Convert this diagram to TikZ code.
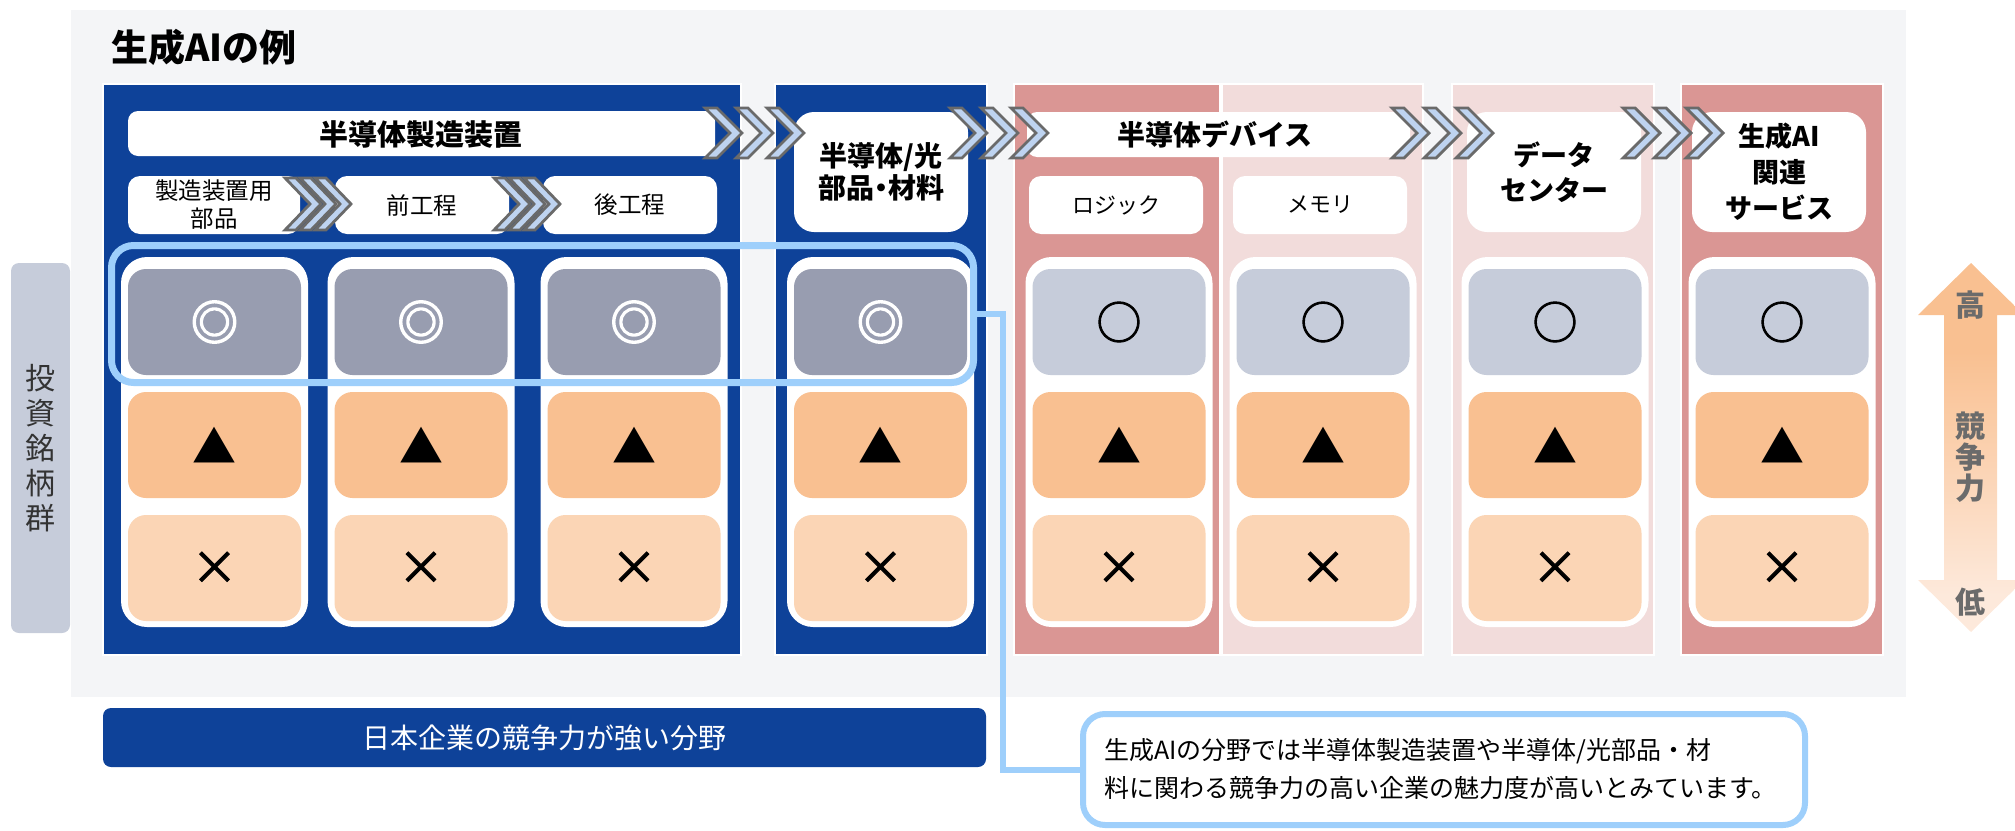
\documentclass[tikz,border=0pt]{standalone}
\usepackage{fontspec}
\setmainfont{Noto Sans CJK JP}
\newfontfamily\propfont[RawFeature=+palt]{Noto Sans CJK JP}
\newfontfamily\symheavy[FakeBold=3.5]{Noto Sans CJK JP}
\newfontfamily\symmid[FakeBold=2]{Noto Sans CJK JP}
\definecolor{bgc}{HTML}{F4F5F7}
\definecolor{navy}{HTML}{0E4299}
\definecolor{pinkd}{HTML}{DA9694}
\definecolor{pinkl}{HTML}{F2DCDB}
\definecolor{grayd}{HTML}{989DB0}
\definecolor{grayl}{HTML}{C6CCDA}
\definecolor{orng}{HTML}{F9C091}
\definecolor{orngl}{HTML}{FBD5B5}
\definecolor{hlblue}{HTML}{9ECFFB}
\definecolor{chevfill}{HTML}{BED3F0}
\definecolor{chevline}{HTML}{6A6A6A}
\definecolor{arrowtxt}{HTML}{6B6B6B}
\definecolor{arrlight}{HTML}{FDE9DB}
\pgfdeclareverticalshading{compshade}{100bp}{color(0bp)=(arrlight); color(30bp)=(arrlight); color(63bp)=(orng); color(100bp)=(orng)}
\newcommand\bigchev[1]{\filldraw[chev] (#1,108) -- ++(12,0) -- ++(25,25) -- ++(-25,25) -- ++(-12,0) -- ++(25,-25) -- cycle;}
\newcommand\smallchev[1]{\filldraw[chev] (#1,178) -- ++(11,0) -- ++(25,26) -- ++(-25,26) -- ++(-11,0) -- ++(25,-26) -- cycle;}
\newcommand\fs[2]{\fontsize{#1}{#2}\selectfont}
\tikzset{
  panel/.style={draw=white, line width=1.5pt},
  chev/.style={fill=chevfill, draw=chevline, line width=2.8pt, line join=miter},
  hdr/.style={fill=white, inner sep=0pt, outer sep=0pt, align=center},
  card/.style={fill=white, rounded corners=26pt, minimum width=187pt, minimum height=370pt, inner sep=0pt},
  cell/.style={rounded corners=18pt, minimum width=173pt, minimum height=106pt, inner sep=0pt, font=\fs{44}{44}},
  dcell/.style={cell, font=\symheavy\fs{47}{47}},
  ocell/.style={cell, font=\symmid\fs{45}{45}},
  xcell/.style={cell, font=\symmid\fs{46}{46}},
}
\begin{document}
\begin{tikzpicture}[x=1pt, y=-1pt]
\useasboundingbox (0,0) rectangle (2015,830);
% background
\fill[bgc] (71,10) rectangle (1906,697);
\node[anchor=west, inner sep=0pt, font=\fs{37}{37}\bfseries] (title) at (111,47) {生成AIの例};
% panels
\filldraw[panel, fill=navy] (103,84) rectangle (741,655);
\filldraw[panel, fill=navy] (775,84) rectangle (987,655);
\filldraw[panel, fill=pinkd] (1014,84) rectangle (1220,655);
\filldraw[panel, fill=pinkl] (1222,84) rectangle (1423,655);
\filldraw[panel, fill=pinkl] (1452,84) rectangle (1654,655);
\filldraw[panel, fill=pinkd] (1681,84) rectangle (1883,655);
% headers
\node[hdr, rounded corners=10pt, minimum width=587pt, minimum height=45pt] (h1) at (421.5,133.5) {};
\node[font=\fs{29}{29}\bfseries] (h1t) at (421,134) {半導体製造装置};
\node[hdr, rounded corners=10pt, minimum width=383pt, minimum height=45pt] (h2) at (1218.5,134.5) {};
\node[font=\fs{28}{28}\bfseries] (h2t) at (1215,135) {半導体デバイス};
\node[hdr, rounded corners=20pt, minimum width=174pt, minimum height=120pt, font=\fs{28}{32}\bfseries] (s4) at (881,172) {\raisebox{-4pt}{\parbox{170pt}{\centering\propfont 半導体/光\\部品・材料}}};
\node[hdr, rounded corners=20pt, minimum width=174pt, minimum height=120pt, font=\fs{27}{35}\bfseries] (s7) at (1554,172) {\raisebox{-4pt}{\parbox{170pt}{\centering データ\\センター}}};
\node[hdr, rounded corners=20pt, minimum width=174pt, minimum height=120pt, font=\fs{27}{36}\bfseries] (s8) at (1779,172) {\raisebox{-3pt}{\parbox{170pt}{\centering 生成AI\\関連\\サービス}}};
\node[hdr, rounded corners=12pt, minimum width=172pt, minimum height=58pt, font=\fs{23.5}{28}] (s1) at (214,205) {製造装置用\\部品};
\node[hdr, rounded corners=12pt, minimum width=174pt, minimum height=58pt, font=\fs{23.5}{28}] (s2) at (422,205) {前工程};
\node[hdr, rounded corners=12pt, minimum width=174pt, minimum height=58pt, font=\fs{23.5}{28}] (s3) at (630,205) {後工程};
\node[hdr, rounded corners=12pt, minimum width=174pt, minimum height=58pt, font=\fs{22}{28}] (s5) at (1116,205) {ロジック};
\node[hdr, rounded corners=12pt, minimum width=174pt, minimum height=58pt, font=\fs{22}{28}] (s6) at (1320,205) {メモリ};
% chevrons
\foreach \a in {705,736,767} {\bigchev{\a}}
\foreach \a in {950,981,1011} {\bigchev{\a}}
\foreach \a in {1392,1424,1456} {\bigchev{\a}}
\foreach \a in {1623,1654,1686} {\bigchev{\a}}
\foreach \a in {285,300,315} {\smallchev{\a}}
\foreach \a in {494,509,524} {\smallchev{\a}}
% columns
\foreach \cx/\n in {214.5/1,421/2,634/3,880.5/4}{
  \node[card] (card\n) at (\cx,442) {};
  \node[dcell, fill=grayd, text=white] (top\n) at (\cx,322) {◎};
  \node[cell, fill=orng] (mid\n) at (\cx,445) {▲};
  \node[xcell, fill=orngl] (bot\n) at (\cx,568) {×};
}
\foreach \cx/\n in {1119/5,1323/6,1555/7,1782/8}{
  \node[card] (card\n) at (\cx,442) {};
  \node[ocell, fill=grayl] (top\n) at (\cx,322) {○};
  \node[cell, fill=orng] (mid\n) at (\cx,445) {▲};
  \node[xcell, fill=orngl] (bot\n) at (\cx,568) {×};
}
% highlight
\node[draw=hlblue, line width=7pt, rounded corners=22pt, minimum width=862pt, minimum height=137pt, inner sep=0pt] (hl) at (542.5,314) {};
% callout
\node[draw=hlblue, fill=white, line width=6pt, rounded corners=22pt, minimum width=722pt, minimum height=111pt, inner sep=0pt, font=\fs{25}{38}] (call) at (1444,769.5) {\parbox{680pt}{\raggedright 生成AIの分野では半導体製造装置や半導体/光部品・材\\料に関わる競争力の高い企業の魅力度が高いとみています。}};
\draw[hlblue, line width=6pt] (hl.east) -- ++(26,0) |- (call.west);
% bottom label
\node[fill=navy, rounded corners=8pt, minimum width=883pt, minimum height=59pt, inner sep=0pt, text=white, font=\fs{28}{28}] (jp) at (544.5,737.5) {日本企業の競争力が強い分野};
% left label
\node[fill=grayl, rounded corners=8pt, minimum width=59pt, minimum height=370pt, inner sep=0pt, align=center, text=black!80, font=\fs{30}{35}] (lbl) at (40.5,448) {投\\資\\銘\\柄\\群};
% competitiveness arrow
\path[shading=compshade] (1971,263) -- (2024,315) -- (1997,315) -- (1997,580) -- (2024,580) -- (1971,632) -- (1918,580) -- (1944,580) -- (1944,315) -- (1918,315) -- cycle;
\node[text=arrowtxt, font=\fs{30}{30}\bfseries] (hi) at (1970,305) {高};
\node[text=arrowtxt, align=center, font=\fs{30}{31}\bfseries] (comp) at (1970,457) {競\\争\\力};
\node[text=arrowtxt, font=\fs{30}{30}\bfseries] (lo) at (1970,602) {低};
\end{tikzpicture}
\end{document}
